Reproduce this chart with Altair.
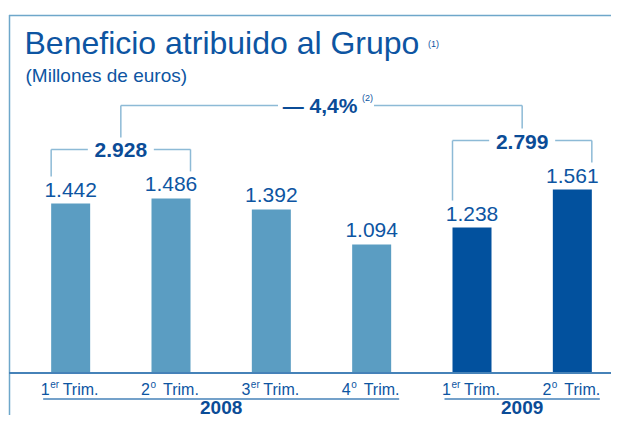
import altair as alt
import pandas as pd

# ---- data ----
quarter_num = ["1", "2", "3", "4", "1", "2"]
quarter_sup = ["er", "o", "er", "o", "er", "o"]
quarter_word = ["Trim."] * 6
years = ["2008", "2008", "2008", "2008", "2009", "2009"]
values = [1442, 1486, 1392, 1094, 1238, 1561]
bracket_first = [0, 4]
bracket_last = [1, 5]
bracket_totals = ["2.928", "2.799"]
change_label = "\u2014 4,4%"
change_note = "(2)"
title_text = "Beneficio atribuido al Grupo"
title_note = "(1)"
subtitle_text = "(Millones de euros)"

# ---- styles ----
FONT = "Liberation Sans, Arial, sans-serif"
BLUE_TXT = "#0d55a2"
BLUE_BOLD = "#0b4c97"
LIGHT = "#5b9dc2"
DARK = "#02519e"
BRACKET = "#8dbad6"
FRAME = "#6ea7ca"
AXIS = "#4682b8"

W, H = 603, 407
X = alt.Scale(domain=[-0.5, 5.5], range=[7.5, 619.5], nice=False, zero=False)
Y = alt.Scale(domain=[0, 3106.4], range=[365, 0], nice=False, zero=False)

def fmt(v):
    return f"{v:,}".replace(",", ".")

bars_df = pd.DataFrame({
    "i": list(range(len(values))),
    "v": values,
    "lab": [fmt(v) for v in values],
    "year": years,
    "num": quarter_num,
    "sup": quarter_sup,
    "word": quarter_word,
})

br_df = pd.DataFrame({
    "i0": bracket_first,
    "i1": bracket_last,
    "lab": bracket_totals,
})
br_df["v0"] = [values[a] for a in bracket_first]
br_df["v1"] = [values[b] for b in bracket_last]
br_df["top"] = br_df[["v0", "v1"]].max(axis=1)
br_df["mid"] = (br_df["i0"] + br_df["i1"]) / 2

top_df = pd.DataFrame({
    "m1": [br_df["mid"][0]],
    "m2": [br_df["mid"][1]],
    "t1": [br_df["top"][0]],
    "t2": [br_df["top"][1]],
    "top": [max(values)],
    "center": [(br_df["mid"][0] + br_df["mid"][1]) / 2],
    "lab": [change_label],
    "note": [change_note],
})

yr_names = sorted(set(years))
yr_df = pd.DataFrame({
    "year": yr_names,
    "first": [years.index(y) for y in yr_names],
    "last": [len(years) - 1 - years[::-1].index(y) for y in yr_names],
})
yr_df["mid"] = (yr_df["first"] + yr_df["last"]) / 2

def xq(f):
    return alt.X(f, scale=X, axis=None)

def yq(f):
    return alt.Y(f, scale=Y, axis=None)

base = alt.Chart(bars_df)

bars = base.mark_bar(size=39).encode(
    x=xq("i:Q"), y=yq("v:Q"),
    color=alt.Color("year:N", scale=alt.Scale(domain=["2008", "2009"], range=[LIGHT, DARK]), legend=None),
)
vlabels = base.mark_text(dy=-7, baseline="alphabetic", fontSize=21, font=FONT, color=BLUE_TXT).encode(
    x=xq("i:Q"), y=yq("v:Q"), text="lab:N")

baseline = alt.Chart(pd.DataFrame({"z": [0]})).mark_rule(color=AXIS, strokeWidth=2).encode(
    y=yq("z:Q"), x=alt.value(1), x2=alt.value(W))

frame_top = alt.Chart(pd.DataFrame({"z": [0]})).mark_rule(color=FRAME, strokeWidth=1.5).encode(
    x=alt.value(1), x2=alt.value(W), y=alt.value(7.5))
frame_left = alt.Chart(pd.DataFrame({"z": [0]})).mark_rule(color=FRAME, strokeWidth=1.5).encode(
    x=alt.value(1.5), y=alt.value(7), y2=alt.value(H))

brc = alt.Chart(br_df)
b_left = brc.mark_rule(color=BRACKET, strokeWidth=1.5, xOffset=-19.5, yOffset=-49, y2Offset=-27).encode(
    x=xq("i0:Q"), y=yq("top:Q"), y2="v0:Q")
b_right = brc.mark_rule(color=BRACKET, strokeWidth=1.5, xOffset=19.5, yOffset=-49, y2Offset=-27).encode(
    x=xq("i1:Q"), y=yq("top:Q"), y2="v1:Q")
b_hl = brc.mark_rule(color=BRACKET, strokeWidth=1.5, xOffset=-19.5, x2Offset=-33, yOffset=-49).encode(
    x=xq("i0:Q"), x2="mid:Q", y=yq("top:Q"))
b_hr = brc.mark_rule(color=BRACKET, strokeWidth=1.5, xOffset=33, x2Offset=19.5, yOffset=-49).encode(
    x=xq("mid:Q"), x2="i1:Q", y=yq("top:Q"))
b_txt = brc.mark_text(dy=-41, baseline="alphabetic", fontSize=21, fontWeight="bold", font=FONT, color=BLUE_BOLD).encode(
    x=xq("mid:Q"), y=yq("top:Q"), text="lab:N")

tpc = alt.Chart(top_df)
t_left = tpc.mark_rule(color=BRACKET, strokeWidth=1.5, yOffset=-84, y2Offset=-61).encode(
    x=xq("m1:Q"), y=yq("top:Q"), y2="t1:Q")
t_right = tpc.mark_rule(color=BRACKET, strokeWidth=1.5, yOffset=-84, y2Offset=-61).encode(
    x=xq("m2:Q"), y=yq("top:Q"), y2="t2:Q")
t_hl = tpc.mark_rule(color=BRACKET, strokeWidth=1.5, x2Offset=-43.5, yOffset=-84).encode(
    x=xq("m1:Q"), x2="center:Q", y=yq("top:Q"))
t_hr = tpc.mark_rule(color=BRACKET, strokeWidth=1.5, xOffset=52.5, yOffset=-84).encode(
    x=xq("center:Q"), x2="m2:Q", y=yq("top:Q"))
t_txt = tpc.mark_text(dx=-1.5, dy=-77, baseline="alphabetic", fontSize=21, fontWeight="bold", font=FONT, color=BLUE_BOLD).encode(
    x=xq("center:Q"), y=yq("top:Q"), text="lab:N")
t_note = tpc.mark_text(dx=40.5, dy=-89, align="left", baseline="alphabetic", fontSize=9, font=FONT, color=BLUE_TXT).encode(
    x=xq("center:Q"), y=yq("top:Q"), text="note:N")

q_num = base.mark_text(align="right", dx=-21, baseline="alphabetic", fontSize=16, font=FONT, color=BLUE_TXT).encode(
    x=xq("i:Q"), y=alt.value(386.5), text="num:N")
q_sup = base.mark_text(align="left", dx=-20.5, baseline="alphabetic", fontSize=10, font=FONT, color=BLUE_TXT).encode(
    x=xq("i:Q"), y=alt.value(380), text="sup:N")
q_word = base.mark_text(align="left", dx=-8, baseline="alphabetic", fontSize=16, font=FONT, color=BLUE_TXT).encode(
    x=xq("i:Q"), y=alt.value(386.5), text="word:N")

yrc = alt.Chart(yr_df)
yr_line = yrc.mark_rule(color=AXIS, strokeWidth=1.5, xOffset=-27.5, x2Offset=27.5).encode(
    x=xq("first:Q"), x2="last:Q", y=alt.value(391))
yr_txt = yrc.mark_text(baseline="alphabetic", fontSize=19, fontWeight="bold", font=FONT, color=BLUE_BOLD).encode(
    x=xq("mid:Q"), y=alt.value(405.5), text="year:N")

tdf = pd.DataFrame({"t": [title_text], "n": [title_note], "s": [subtitle_text]})
tc = alt.Chart(tdf)
title = tc.mark_text(align="left", baseline="alphabetic", fontSize=32, font=FONT, color=BLUE_TXT).encode(
    x=alt.value(16.5), y=alt.value(46), text="t:N")
tnote = tc.mark_text(align="left", baseline="alphabetic", fontSize=9, font=FONT, color=BLUE_TXT).encode(
    x=alt.value(420), y=alt.value(39), text="n:N")
subtitle = tc.mark_text(align="left", baseline="alphabetic", fontSize=19, font=FONT, color=BLUE_TXT).encode(
    x=alt.value(17.5), y=alt.value(74), text="s:N")

chart = alt.layer(
    frame_top, frame_left, bars, baseline, vlabels,
    b_left, b_right, b_hl, b_hr, b_txt,
    t_left, t_right, t_hl, t_hr, t_txt, t_note,
    q_num, q_sup, q_word, yr_line, yr_txt,
    title, tnote, subtitle,
).properties(
    width=W, height=H, padding=0, autosize=alt.AutoSizeParams(type="none"), background="white"
).configure_view(stroke=None)

chart.save("out.html", embed_options={"renderer": "svg", "actions": False})
